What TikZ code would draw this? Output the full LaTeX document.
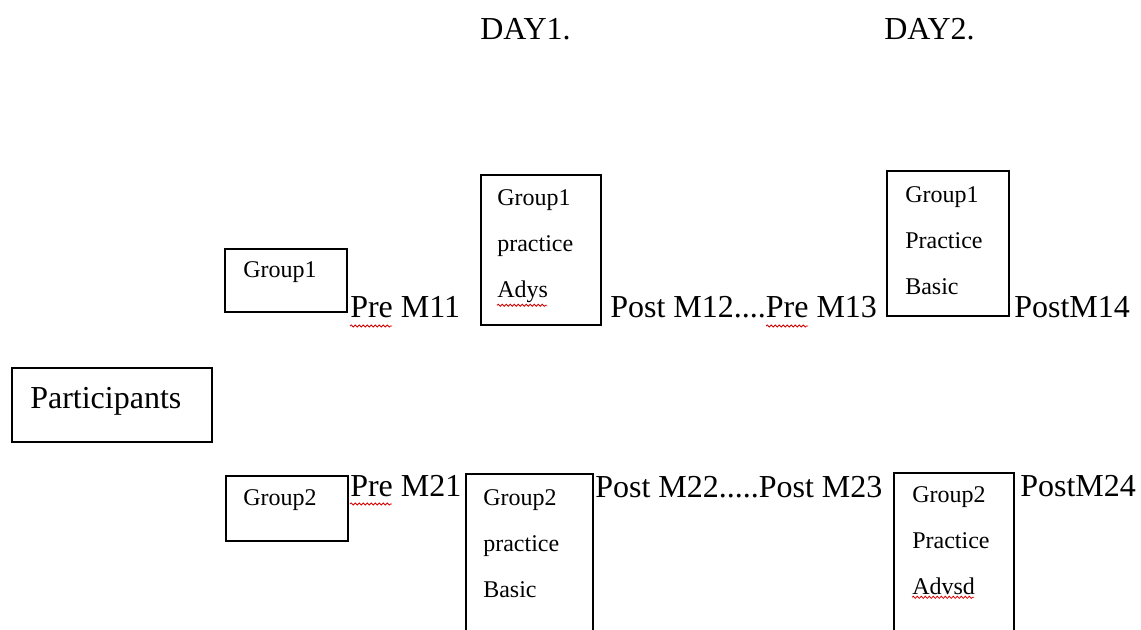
\documentclass[tikz,border=0pt]{standalone}
\usepackage{fontspec}
\setmainfont{Liberation Serif}
\usetikzlibrary{decorations.pathmorphing}
\definecolor{wavered}{HTML}{D50000}

\begin{document}
\begin{tikzpicture}[x=0.75pt,y=-0.75pt,
    every node/.style={inner sep=0pt},
    box/.style={draw,line width=1.6pt,anchor=north west},
    big/.style={font=\fontsize{24}{28}\selectfont,anchor=base west},
    small/.style={font=\fontsize{18}{34.5}\selectfont,align=left,anchor=north west},
    spell/.style={wavered,line width=0.6pt,decorate,decoration={snake,segment length=3pt,amplitude=0.8pt}}]
  \useasboundingbox (0,0) rectangle (1141,630);
  \draw
    (480,40) node[big] (day1) {DAY1.}
    (884,40) node[big] (day2) {DAY2.};
  \draw
    (11,367) node[box,minimum width=150pt,minimum height=55.5pt] (part) {}
    (224,248) node[box,minimum width=91.5pt,minimum height=47.25pt] (grpA) {}
    (480,174) node[box,minimum width=90pt,minimum height=112.5pt] (prcA) {}
    (886,170) node[box,minimum width=91.5pt,minimum height=108.75pt] (prcB) {}
    (225,475) node[box,minimum width=91.5pt,minimum height=48.75pt] (grpB) {}
    (465,473) node[box,minimum width=95.25pt,minimum height=127.5pt] (prcC) {}
    (893,472) node[box,minimum width=90pt,minimum height=128.25pt] (prcD) {};
  \draw
    (30,408) node[big] (partT) {Participants}
    (243,278) node[big,font=\fontsize{18}{22}\selectfont] (grpAT) {Group1}
    (243,505) node[big,font=\fontsize{18}{22}\selectfont] (grpBT) {Group2}
    (497,189) node[small] (prcAT) {Group1\\practice\\Adys}
    (905,186) node[small] (prcBT) {Group1\\Practice\\Basic}
    (483,489) node[small] (prcCT) {Group2\\practice\\Basic}
    (912,486) node[small] (prcDT) {Group2\\Practice\\Advsd};
  \draw
    (350,318) node[big] (preA) {Pre M11}
    (610,318) node[big] (postA) {Post M12....Pre M13}
    (1014,318) node[big] (postB) {PostM14}
    (350,496) node[big] (preB) {Pre M21}
    (595,497) node[big] (postC) {Post M22.....Post M23}
    (1020,496) node[big] (postD) {PostM24};
  % spelling marks
  \draw[spell] ([yshift=-6pt]preA.base west) -- ++(42,0);
  \draw[spell] ([xshift=117pt,yshift=-6pt]postA.base west) -- ++(42,0);
  \draw[spell] ([yshift=-6pt]preB.base west) -- ++(42,0);
  \draw[spell] ([yshift=-2pt]prcAT.south west) -- ++(50,0);
  \draw[spell] ([yshift=-2pt]prcDT.south west) -- ++(62,0);
\end{tikzpicture}
\end{document}
